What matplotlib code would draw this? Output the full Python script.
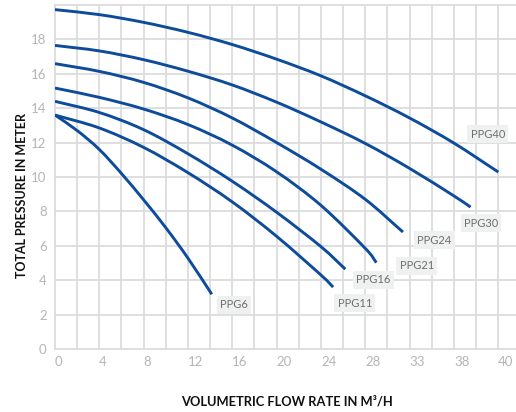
import matplotlib
matplotlib.use("Agg")
import matplotlib.pyplot as plt
from matplotlib.path import Path
from matplotlib.patches import PathPatch

# ================================
# DATA (flow positions on the chart axis, head in metres)
# ================================
tick_pos = [0, 4, 8, 12, 16, 20, 24, 28, 32, 36, 40]
tick_labels = ["0", "4", "8", "12", "16", "20", "24", "28", "33", "38", "40"]

ppg40_q = [0, 4, 8, 12, 16, 20, 24, 28, 32, 36, 40]
ppg40_h = [19.73, 19.44, 18.99, 18.41, 17.7, 16.85, 15.88, 14.72, 13.43, 11.97, 10.29]

ppg30_q = [0, 4, 8, 12, 16, 20, 24, 28, 32, 36, 37.5]
ppg30_h = [17.65, 17.33, 16.82, 16.15, 15.35, 14.35, 13.2, 11.95, 10.5, 8.9, 8.25]

ppg24_q = [0, 4, 8, 12, 16, 20, 24, 28, 31.4]
ppg24_h = [16.59, 16.14, 15.5, 14.6, 13.43, 12.0, 10.45, 8.7, 6.8]

ppg21_q = [0, 4, 8, 12, 16, 20, 24, 28, 29.0]
ppg21_h = [15.17, 14.63, 13.95, 13.05, 11.85, 10.3, 8.35, 5.85, 5.02]

ppg16_q = [0, 4, 8, 12, 16, 20, 24, 26.2]
ppg16_h = [14.4, 13.75, 12.75, 11.35, 9.75, 7.95, 5.95, 4.64]

ppg11_q = [0, 4, 8, 12, 16, 20, 24, 25.1]
ppg11_h = [13.6, 12.85, 11.72, 10.25, 8.55, 6.55, 4.3, 3.6]

ppg6_q = [0, 2, 4, 6, 8, 10, 12, 14.15]
ppg6_h = [13.6, 12.7, 11.6, 10.2, 8.67, 7.05, 5.28, 3.18]

curves = [
    ("PPG40", ppg40_q, ppg40_h, (37.5, 12.5)),
    ("PPG30", ppg30_q, ppg30_h, (36.9, 7.32)),
    ("PPG24", ppg24_q, ppg24_h, (32.7, 6.33)),
    ("PPG21", ppg21_q, ppg21_h, (31.1, 4.83)),
    ("PPG16", ppg16_q, ppg16_h, (27.2, 4.02)),
    ("PPG11", ppg11_q, ppg11_h, (25.5, 2.66)),
    ("PPG6", ppg6_q, ppg6_h, (14.9, 2.56)),
]


def smooth_path(xs, ys):
    # catmull-rom through the read points, handed to matplotlib as bezier segments
    pts = list(zip(xs, ys))
    first = (2 * pts[0][0] - pts[1][0], 2 * pts[0][1] - pts[1][1])
    last = (2 * pts[-1][0] - pts[-2][0], 2 * pts[-1][1] - pts[-2][1])
    ext = [first] + pts + [last]
    verts = [pts[0]]
    codes = [Path.MOVETO]
    for i in range(1, len(ext) - 2):
        p0, p1, p2, p3 = ext[i - 1], ext[i], ext[i + 1], ext[i + 2]
        c1 = (p1[0] + (p2[0] - p0[0]) / 6, p1[1] + (p2[1] - p0[1]) / 6)
        c2 = (p2[0] - (p3[0] - p1[0]) / 6, p2[1] - (p3[1] - p1[1]) / 6)
        verts += [c1, c2, p2]
        codes += [Path.CURVE4] * 3
    return Path(verts, codes)


# ================================
# PLOT
# ================================
plt.rcParams["font.family"] = ["Lato", "DejaVu Sans"]

fig = plt.figure(figsize=(5.16, 4.12), dpi=100)
ax = fig.add_axes([55 / 516, 1 - 349 / 412, 1 - 55 / 516, 344 / 412])

# grid drawn as plain lines so the border ones are not clipped
grid_color = "#dcdcdc"
for gx in range(0, 42, 2):
    ax.axvline(gx, color=grid_color, linewidth=1.3, zorder=0, clip_on=False)
for gy in range(0, 21, 2):
    ax.axhline(gy, color=grid_color, linewidth=1.3, zorder=0, clip_on=False)

line_color = "#0d4b9b"
for name, q, h, lab in curves:
    ax.add_patch(PathPatch(smooth_path(q, h), fill=False, edgecolor=line_color,
                           linewidth=2.1, capstyle="butt", zorder=3))
    ax.text(lab[0], lab[1], name, fontsize=8, color="#6e6e6e", ha="left", va="center",
            zorder=4,
            bbox=dict(boxstyle="square,pad=0.3", facecolor="#eff0f0", edgecolor="none"))

ax.set_xlim(0, 41.6)
ax.set_ylim(0, 20)

ax.set_xticks(tick_pos)
ax.set_xticklabels(tick_labels, ha="left")
ax.set_yticks(range(0, 20, 2))

ax.tick_params(axis="both", which="both", length=0, labelsize=9.5, labelcolor="#b5b5b5")
ax.tick_params(axis="x", pad=5)
ax.tick_params(axis="y", pad=6)

for s in ax.spines.values():
    s.set_visible(False)

fig.text(22 / 516, 1 - 195 / 412, "TOTAL PRESSURE IN METER", rotation=90,
         ha="center", va="center", fontsize=9, fontweight="bold", color="#111111")
fig.text(287 / 516, 1 - 401 / 412, "VOLUMETRIC FLOW RATE IN M\u00b3/H",
         ha="center", va="center", fontsize=9.3, fontweight="bold", color="#111111")

fig.savefig("out.png", dpi=100)
